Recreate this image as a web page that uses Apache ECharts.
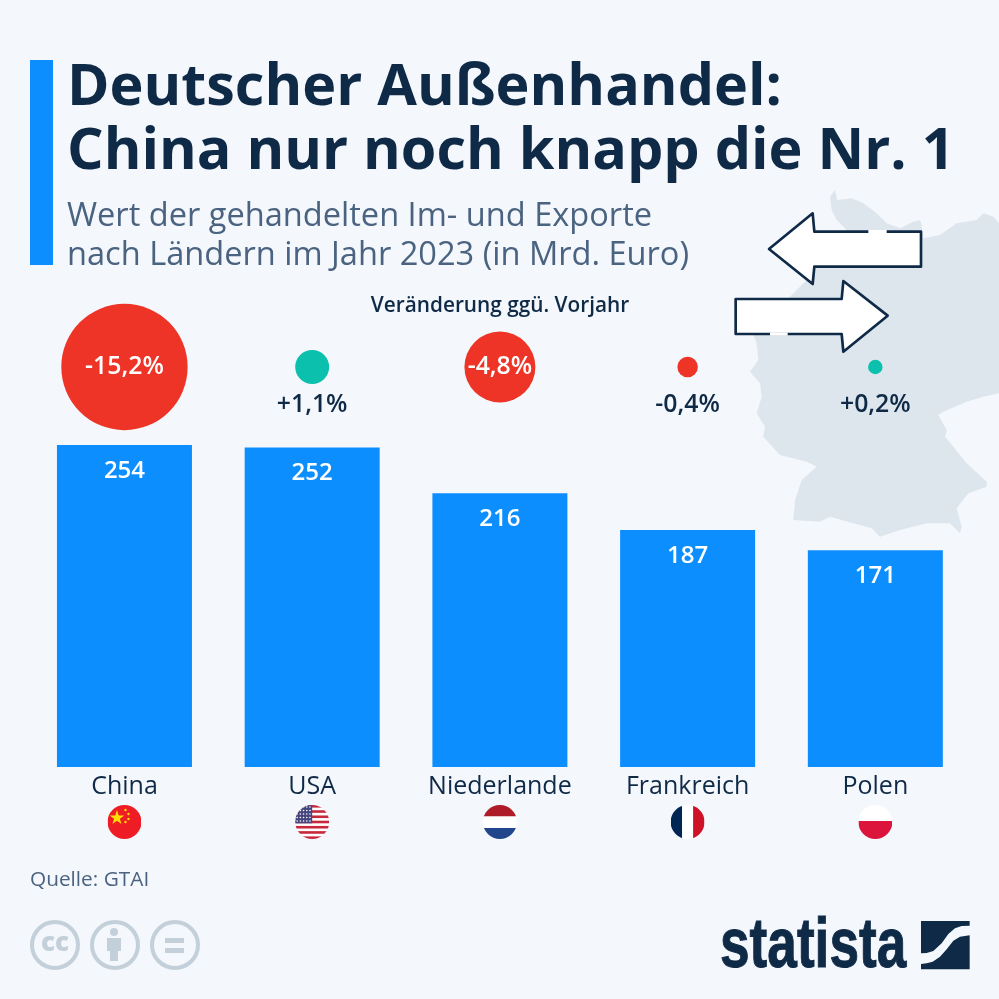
<!DOCTYPE html>
<html>
<head>
<meta charset="utf-8">
<style>
  html, body { margin: 0; padding: 0; background: #f4f7fb; }
  #chart { width: 999px; height: 999px; }
</style>
<script src="https://cdn.jsdelivr.net/npm/echarts@6/dist/echarts.min.js"></script>
</head>
<body>
<div id="chart"></div>
<script>
// data
var countries = ['China', 'USA', 'Niederlande', 'Frankreich', 'Polen'];
var tradeValues = [254, 252, 216, 187, 171];
var changeValues = [-15.2, 1.1, -4.8, -0.4, 0.2];

var DARK = '#0f2a47';
var BLUE = '#0c8eff';
var RED = '#ee3426';
var TEAL = '#0cc0ae';
var FONT = '"Open Sans", sans-serif';

function flagUri(inner) {
  var svg = '<svg xmlns="http://www.w3.org/2000/svg" width="68" height="68" viewBox="0 0 34 34">' +
    '<defs><clipPath id="c"><circle cx="17" cy="17" r="17"/></clipPath></defs>' +
    '<g clip-path="url(#c)">' + inner + '</g></svg>';
  return 'data:image/svg+xml;charset=utf-8,' + encodeURIComponent(svg);
}

function usaStripes() {
  var s = '<rect width="34" height="34" fill="#fff"/>';
  for (var i = 0; i < 7; i++) {
    s += '<rect y="' + (i * 5.23) + '" width="34" height="2.6" fill="#c8283c"/>';
  }
  s += '<rect width="17" height="18.3" fill="#46467f"/>';
  for (var r = 0; r < 5; r++) {
    for (var c = 0; c < 5; c++) {
      s += '<circle cx="' + (2 + c * 3.2) + '" cy="' + (2 + r * 3.5) + '" r="0.8" fill="#fff"/>';
    }
  }
  return s;
}

var flags = {
  China: flagUri('<rect width="34" height="34" fill="#ee1c25"/>' +
    '<polygon points="9.5,5 11.3,10.4 16.8,10.4 12.4,13.7 14,19 9.5,15.8 5,19 6.6,13.7 2.2,10.4 7.7,10.4" fill="#ffde00"/>' +
    '<circle cx="18" cy="5" r="1.2" fill="#ffde00"/><circle cx="21" cy="9" r="1.2" fill="#ffde00"/>' +
    '<circle cx="21" cy="14" r="1.2" fill="#ffde00"/><circle cx="18" cy="17" r="1.2" fill="#ffde00"/>'),
  USA: flagUri(usaStripes()),
  Niederlande: flagUri('<rect width="34" height="11.5" fill="#ae1c28"/><rect y="11.5" width="34" height="11.5" fill="#fff"/><rect y="23" width="34" height="11" fill="#21468b"/>'),
  Frankreich: flagUri('<rect width="11.5" height="34" fill="#002654"/><rect x="11.5" width="11" height="34" fill="#fff"/><rect x="22.5" width="11.5" height="34" fill="#ce1126"/>'),
  Polen: flagUri('<rect width="34" height="16" fill="#fff"/><rect y="16" width="34" height="18" fill="#dc143c"/>')
};

// decoration, drawn in the 3x coordinates of the upper right corner
var germanyOutline = [[330,50],[345,30],[352,60],[395,55],[430,70],[470,100],[500,130],[540,145],[580,125],[600,120],
  [605,135],[610,175],[660,165],[710,130],[770,120],[790,100],[820,110],[837,130],[837,640],[790,650],[740,665],[670,695],
  [655,705],[680,750],[675,770],[700,800],[740,850],[800,905],[800,920],[745,940],[710,985],[725,1040],[720,1060],[690,1030],
  [620,1030],[540,1050],[480,1070],[455,1045],[400,1030],[330,1010],[300,1025],[220,1020],[225,960],[245,900],[290,860],
  [260,845],[180,825],[130,770],[135,740],[110,700],[125,650],[120,610],[90,575],[115,540],[110,490],[100,465],[215,345],
  [275,285],[290,200],[380,150],[350,120],[335,90]];
var arrowLeft = [[147,207],[278,100],[283,155],[603,155],[603,260],[283,260],[278,312]];
var arrowRight = [[47,357],[365,357],[370,303],[503,407],[370,515],[365,462],[47,462]];
var logoUpper = [[843,393],[989,393],[989,407],[965,408],[945,415],[925,432],[905,460],[880,483],[860,489],[843,490]];
var logoLower = [[989,436],[960,440],[940,452],[920,478],[900,500],[878,515],[860,520],[843,522],[843,538],[989,538]];

function formatChange(v) {
  return (v > 0 ? '+' : '') + v.toFixed(1).replace('.', ',') + '%';
}

var flagRich = {
  name: { fontFamily: FONT, fontSize: 25, color: DARK, height: 36, lineHeight: 36 }
};
countries.forEach(function (c) {
  flagRich[c] = { height: 34, width: 34, backgroundColor: { image: flags[c] } };
});

var chart = echarts.init(document.getElementById('chart'));
chart.setOption({
  backgroundColor: '#f4f7fb',
  animation: false,
  title: [
    {
      text: 'Deutscher Außenhandel:\nChina nur noch knapp die Nr. 1',
      left: 67, top: 57, padding: 0,
      textStyle: { fontFamily: FONT, fontSize: 57.5, fontWeight: 700, color: DARK, lineHeight: 63.5 }
    },
    {
      text: 'Wert der gehandelten Im- und Exporte\nnach Ländern im Jahr 2023 (in Mrd. Euro)',
      left: 67, top: 197, padding: 0,
      textStyle: { fontFamily: FONT, fontSize: 32.6, fontWeight: 400, color: '#4a6380', lineHeight: 39 }
    },
    {
      text: 'Veränderung ggü. Vorjahr',
      left: 500, top: 296, textAlign: 'center', padding: 0,
      textStyle: { fontFamily: FONT, fontSize: 20.8, fontWeight: 600, color: DARK }
    },
    {
      text: 'Quelle: GTAI',
      left: 30, top: 870, padding: 0,
      textStyle: { fontFamily: FONT, fontSize: 20.8, fontWeight: 400, color: '#4a6380' }
    }
  ],
  grid: [
    { left: 30.6, width: 938.6, top: 445, height: 322 },
    { left: 30.6, width: 938.6, top: 267, height: 200 }
  ],
  xAxis: [
    {
      type: 'category', gridIndex: 0, data: countries,
      axisLine: { show: false }, axisTick: { show: false },
      axisLabel: {
        interval: 0, margin: 2,
        formatter: function (v) { return '{name|' + v + '}\n{' + v + '|}'; },
        rich: flagRich
      }
    },
    { type: 'category', gridIndex: 1, data: countries, show: false }
  ],
  yAxis: [
    { type: 'value', gridIndex: 0, min: 0, max: 254, show: false },
    { type: 'value', gridIndex: 1, min: 0, max: 1, show: false }
  ],
  series: [
    {
      type: 'bar', xAxisIndex: 0, yAxisIndex: 0, data: tradeValues, barWidth: 135,
      itemStyle: { color: BLUE }, silent: true,
      label: {
        show: true, position: 'insideTop', distance: 14,
        fontFamily: FONT, fontSize: 24, fontWeight: 600, color: '#fff'
      }
    },
    {
      type: 'scatter', xAxisIndex: 1, yAxisIndex: 1, clip: false, silent: true,
      data: changeValues.map(function (v, i) {
        var big = Math.abs(v) > 4;
        return {
          value: [i, 0.5, v],
          itemStyle: { color: v < 0 ? RED : TEAL, opacity: 1 },
          label: big
            ? { show: true, position: 'inside', color: '#fff', formatter: formatChange(v) }
            : { show: true, position: 'inside', offset: [0, 38], color: DARK, formatter: formatChange(v) }
        };
      }),
      symbolSize: function (val) { return Math.sqrt(Math.abs(val[2])) * 32.4; },
      label: { fontFamily: FONT, fontSize: 24.8, fontWeight: 600 }
    }
  ],
  graphic: [
    { type: 'rect', shape: { x: 30, y: 60, width: 23, height: 205 }, style: { fill: BLUE } },
    {
      type: 'group', x: 720, y: 180, scaleX: 1 / 3, scaleY: 1 / 3,
      children: [
        { type: 'polygon', shape: { points: germanyOutline }, style: { fill: '#dee6ed' } },
        { type: 'polygon', shape: { points: arrowLeft }, style: { fill: '#fff', stroke: DARK, lineWidth: 8, lineJoin: 'round' } },
        { type: 'line', shape: { x1: 445, y1: 155, x2: 500, y2: 155 }, style: { stroke: '#fff', lineWidth: 10 } },
        { type: 'polygon', shape: { points: arrowRight }, style: { fill: '#fff', stroke: DARK, lineWidth: 8, lineJoin: 'round' } },
        { type: 'line', shape: { x1: 150, y1: 462, x2: 203, y2: 462 }, style: { stroke: '#fff', lineWidth: 10 } }
      ]
    },
    // licence icons
    { type: 'circle', shape: { cx: 55, cy: 945, r: 23 }, style: { fill: 'none', stroke: '#c3d0da', lineWidth: 4 } },
    { type: 'text', x: 55, y: 944, style: { text: 'cc', fill: '#c3d0da', font: '800 26px "Open Sans"', align: 'center', verticalAlign: 'middle' } },
    { type: 'circle', shape: { cx: 115, cy: 945, r: 23 }, style: { fill: 'none', stroke: '#c3d0da', lineWidth: 4 } },
    { type: 'circle', shape: { cx: 114, cy: 932, r: 4 }, style: { fill: '#c3d0da' } },
    { type: 'rect', shape: { x: 107, y: 938, width: 14, height: 13 }, style: { fill: '#c3d0da' } },
    { type: 'rect', shape: { x: 110, y: 950, width: 8, height: 11 }, style: { fill: '#c3d0da' } },
    { type: 'circle', shape: { cx: 175, cy: 945, r: 23 }, style: { fill: 'none', stroke: '#c3d0da', lineWidth: 4 } },
    { type: 'rect', shape: { x: 165, y: 938, width: 19, height: 5 }, style: { fill: '#c3d0da' } },
    { type: 'rect', shape: { x: 165, y: 948, width: 19, height: 5 }, style: { fill: '#c3d0da' } },
    // statista logo
    {
      type: 'text', x: 720, y: 983, scaleX: 0.76,
      style: { text: 'statista', fill: DARK, stroke: DARK, lineWidth: 1, font: 'bold 70px "Liberation Sans"', align: 'left', verticalAlign: 'bottom' }
    },
    {
      type: 'group', x: 640, y: 790, scaleX: 1 / 3, scaleY: 1 / 3,
      children: [
        { type: 'polygon', shape: { points: logoUpper }, style: { fill: DARK } },
        { type: 'polygon', shape: { points: logoLower }, style: { fill: DARK } }
      ]
    }
  ]
});
</script>
</body>
</html>
